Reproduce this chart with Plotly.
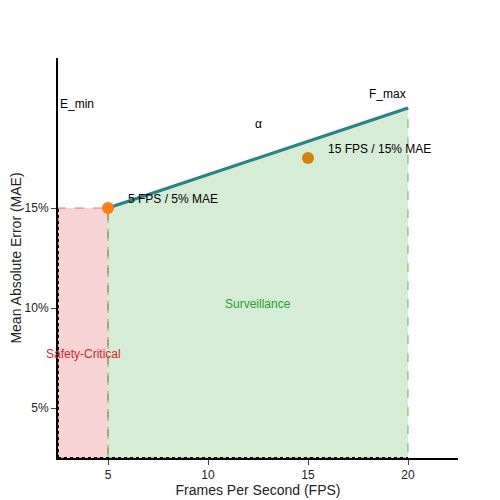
import plotly.graph_objects as go

fps_curve = [5, 20]
mae_curve = [15, 20]
pt_fps = [5, 15]
pt_mae = [15, 17.5]
pt_labels = ["5 FPS / 5% MAE", "15 FPS / 15% MAE"]
pt_colors = ["#ff7f0e", "#d4820f"]
y_ticks = [5, 10, 15]
y_ticktext = ["5%", "10%", "15%"]
x_ticks = [5, 10, 15, 20]

fig = go.Figure()
fig.add_trace(go.Scatter(x=[2.5, 5, 5, 2.5, 2.5], y=[2.5, 2.5, 15, 15, 2.5], fill="toself",
    fillcolor="rgba(214,39,40,0.2)", line=dict(color="rgba(214,39,40,0.6)", dash="dash", width=1),
    mode="lines", showlegend=False))
fig.add_trace(go.Scatter(x=[5, 20, 20, 5, 5], y=[2.5, 2.5, mae_curve[1], mae_curve[0], 2.5], fill="toself",
    fillcolor="rgba(44,160,44,0.2)", line=dict(color="rgba(44,160,44,0.7)", dash="dash", width=1),
    mode="lines", showlegend=False))
fig.add_trace(go.Scatter(x=fps_curve, y=mae_curve, mode="lines", line=dict(color="#1f77b4", width=3), showlegend=False))
fig.add_trace(go.Scatter(x=fps_curve, y=mae_curve, mode="lines", line=dict(color="#2ca02c", width=1), showlegend=False))
fig.add_trace(go.Scatter(x=[2.5, 2.5], y=[2.5, 15], mode="lines", line=dict(color="black", dash="dot", width=2), showlegend=False))
fig.add_trace(go.Scatter(x=[2.5, 20], y=[2.5, 2.5], mode="lines", line=dict(color="black", dash="dot", width=2), showlegend=False))
fig.add_trace(go.Scatter(x=pt_fps, y=pt_mae, mode="markers", marker=dict(color=pt_colors, size=12), showlegend=False))

for x, y, t in zip(pt_fps, pt_mae, pt_labels):
    fig.add_annotation(x=x, y=y, text=t, showarrow=False, xanchor="left", xshift=18, yshift=9,
                       font=dict(size=12, color="black"))
fig.add_annotation(x=2.5, y=20.2, text="E_min", showarrow=False, xanchor="left", font=dict(size=12, color="black"))
fig.add_annotation(x=20, y=20.7, text="F_max", showarrow=False, xanchor="right", font=dict(size=12, color="black"))
fig.add_annotation(x=12.5, y=19.2, text="α", showarrow=False, font=dict(size=12, color="black"))
fig.add_annotation(x=12.5, y=10.2, text="Surveillance", showarrow=False, font=dict(size=12, color="#2ca02c"))
fig.add_annotation(x=3.75, y=7.7, text="Safety-Critical", showarrow=False, font=dict(size=12, color="#d62728"))

fig.update_layout(width=500, height=500, margin=dict(l=50, r=50, t=50, b=50),
    plot_bgcolor="white", paper_bgcolor="white",
    font=dict(family="Liberation Sans, Arial", size=12, color="#222"))
fig.update_xaxes(range=[2.5, 22.5], tickvals=x_ticks, ticks="outside", showgrid=False, zeroline=False,
    automargin=False, showline=True, linecolor="black", linewidth=2,
    title=dict(text="Frames Per Second (FPS)", standoff=0, font=dict(size=14, color="#222")))
fig.update_yaxes(range=[2.5, 22.5], tickvals=y_ticks, ticktext=y_ticktext, ticks="outside", showgrid=False, zeroline=False,
    automargin=False, showline=True, linecolor="black", linewidth=2,
    title=dict(text="Mean Absolute Error (MAE)", standoff=0, font=dict(size=14, color="#222")))
fig.write_html("out.html")
